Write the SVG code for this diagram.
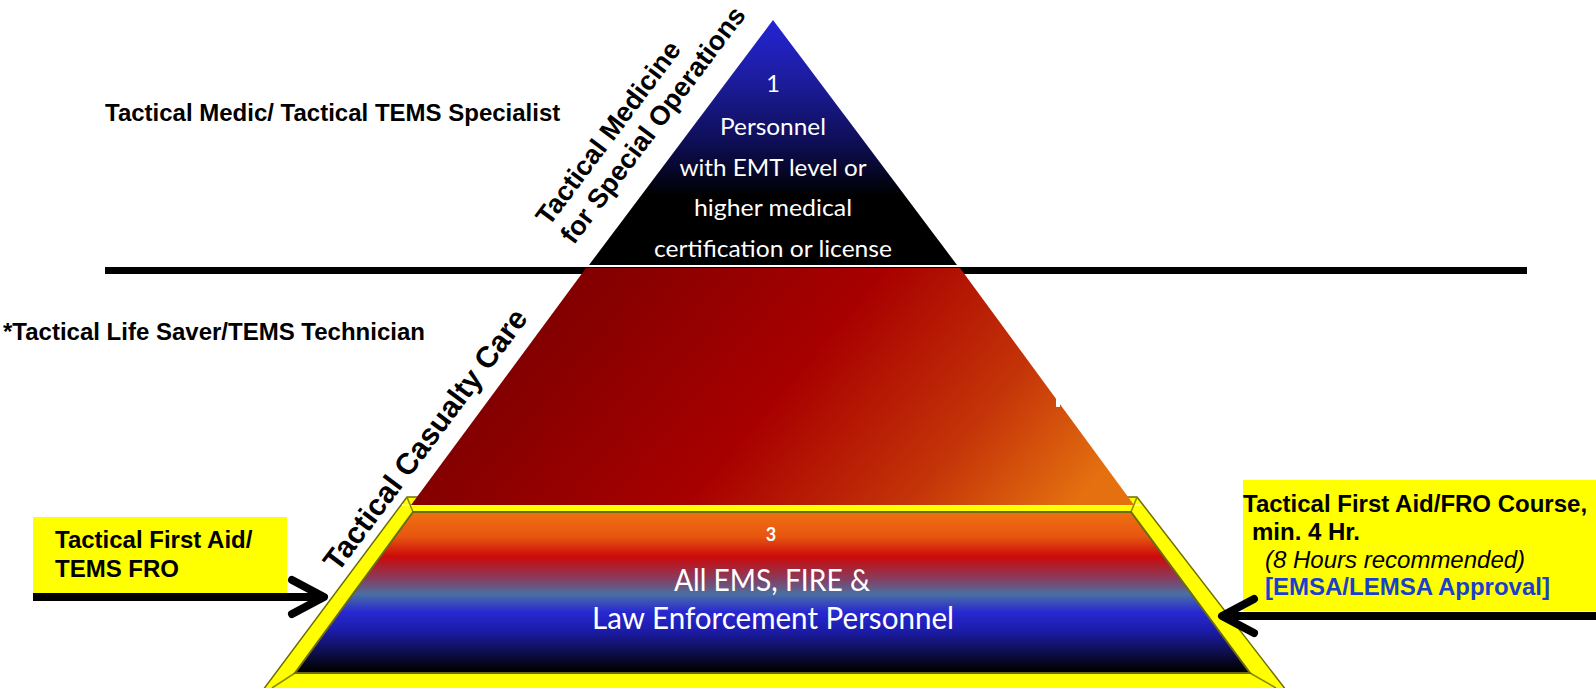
<svg xmlns="http://www.w3.org/2000/svg" width="1596" height="688" viewBox="0 0 1596 688">
  <style>
    .lbl { font-family: "Liberation Sans", Arial, sans-serif; font-weight: bold; font-size: 24px; fill: #000; }
    .rot1 { font-family: "Liberation Sans", Arial, sans-serif; font-weight: bold; font-size: 27px; fill: #000; }
    .rot2 { font-family: "Liberation Sans", Arial, sans-serif; font-weight: bold; font-size: 30px; fill: #000; }
    .wt { font-family: Lato, "Open Sans", sans-serif; fill: #fff; text-anchor: middle; }
    .top { font-size: 23.5px; }
    .base { font-size: 30px; }
    .ital { font-family: "Liberation Sans", Arial, sans-serif; font-style: italic; font-size: 24px; fill: #000; }
    .blue { fill: #1a3fcc; }
    .arrow { stroke: #000; stroke-width: 8; fill: none; }
    .box { fill: #ffff00; }
  </style>
  <defs>
    <linearGradient id="gTop" x1="0" y1="20" x2="0" y2="265" gradientUnits="userSpaceOnUse">
      <stop offset="0" stop-color="#2424d6"/>
      <stop offset="0.25" stop-color="#1c1c9c"/>
      <stop offset="0.5" stop-color="#0e0e56"/>
      <stop offset="0.72" stop-color="#000000"/>
      <stop offset="1" stop-color="#000000"/>
    </linearGradient>
    <linearGradient id="gMid" x1="620" y1="250" x2="1010" y2="580" gradientUnits="userSpaceOnUse">
      <stop offset="0" stop-color="#840000"/>
      <stop offset="0.42" stop-color="#a80000"/>
      <stop offset="0.75" stop-color="#c43408"/>
      <stop offset="1" stop-color="#e47010"/>
    </linearGradient>
    <linearGradient id="gBase" x1="0" y1="511" x2="0" y2="674" gradientUnits="userSpaceOnUse">
      <stop offset="0" stop-color="#f07212"/>
      <stop offset="0.16" stop-color="#e65510"/>
      <stop offset="0.28" stop-color="#cc0a0a"/>
      <stop offset="0.41" stop-color="#8a3a5c"/>
      <stop offset="0.51" stop-color="#4a70a2"/>
      <stop offset="0.62" stop-color="#2828d2"/>
      <stop offset="0.73" stop-color="#1c1cac"/>
      <stop offset="0.85" stop-color="#10105a"/>
      <stop offset="0.98" stop-color="#000000"/>
    </linearGradient>
    <marker id="chev" viewBox="-40 -24 48 48" markerWidth="48" markerHeight="48" markerUnits="userSpaceOnUse" refX="0" refY="0" orient="auto" overflow="visible">
      <path d="M -32,-17 L 0,0 L -32,17" fill="none" stroke="#000" stroke-width="8" stroke-linecap="round" stroke-linejoin="round"/>
    </marker>
  </defs>

  <!-- divider line -->
  <rect id="divider" x="105" y="267" width="1422" height="7" fill="#000"/>

  <!-- base tier (3) -->
  <g id="tier3">
    <polygon points="407,497 1137,497 1286,690 263,690" fill="#ffff00" stroke="#6e6e00" stroke-width="1.5"/>
    <polyline points="402,505 1141,505" fill="none" stroke="#ffff88" stroke-width="1.5"/>
    <line x1="413" y1="512" x2="407" y2="497" stroke="#8a8a00" stroke-width="1.5"/>
    <line x1="1131" y1="512" x2="1137" y2="497" stroke="#8a8a00" stroke-width="1.5"/>
    <line x1="295" y1="673" x2="272" y2="688" stroke="#8a8a00" stroke-width="1.5"/>
    <line x1="1250" y1="673" x2="1276" y2="688" stroke="#8a8a00" stroke-width="1.5"/>
    <polygon points="413,512 1131,512 1250,673 295,673" fill="url(#gBase)" stroke="#6b6b10" stroke-width="2"/>
    <text class="wt" x="771" y="541" font-size="18" font-weight="bold">3</text>
    <text class="wt base" x="772" y="591" textLength="196" lengthAdjust="spacingAndGlyphs">All EMS, FIRE &amp;</text>
    <text class="wt base" x="773" y="629" textLength="362" lengthAdjust="spacingAndGlyphs">Law Enforcement Personnel</text>
  </g>

  <!-- middle tier (2) -->
  <g id="tier2">
    <polygon points="586,268 960,268 1134,505 411,505" fill="url(#gMid)"/>
    <rect x="1056" y="398" width="4" height="9" fill="#fff"/>
  </g>

  <!-- top tier (1) -->
  <g id="tier1">
    <polygon points="773,20 957,265 589,265" fill="url(#gTop)" stroke="#fff" stroke-width="2.5" stroke-linejoin="round"/>
    <polygon points="773,20 957,265 589,265" fill="url(#gTop)"/>
    <text class="wt top" x="773" y="92">1</text>
    <text class="wt top" x="773" y="135" textLength="106" lengthAdjust="spacingAndGlyphs">Personnel</text>
    <text class="wt top" x="773" y="176" textLength="187" lengthAdjust="spacingAndGlyphs">with EMT level or</text>
    <text class="wt top" x="773" y="216" textLength="158" lengthAdjust="spacingAndGlyphs">higher medical</text>
    <text class="wt top" x="773" y="257" textLength="238" lengthAdjust="spacingAndGlyphs">certification or license</text>
  </g>

  <!-- side rotated labels -->
  <g id="label-special-ops" transform="translate(549,227) rotate(-53.13)">
    <text class="rot1" x="0" y="0">Tactical Medicine</text>
    <text class="rot1" x="0" y="31">for Special Operations</text>
  </g>
  <g id="label-casualty" transform="translate(338,573) rotate(-53.13)">
    <text class="rot2" x="0" y="0">Tactical Casualty Care</text>
  </g>

  <!-- level labels -->
  <g id="label-medic">
    <text class="lbl" x="105" y="121">Tactical Medic/ Tactical TEMS Specialist</text>
  </g>
  <g id="label-lifesaver">
    <text class="lbl" x="3" y="340">*Tactical Life Saver/TEMS Technician</text>
  </g>

  <g id="box-left">
    <rect class="box" x="33" y="517" width="254" height="76"/>
    <text class="lbl" x="55" y="548">Tactical First Aid/</text>
    <text class="lbl" x="55" y="577">TEMS FRO</text>
  </g>

  <g id="box-right">
    <rect class="box" x="1243" y="480" width="353" height="131"/>
    <text class="lbl" x="1243" y="512">Tactical First Aid/FRO Course,</text>
    <text class="lbl" x="1252" y="540">min. 4 Hr.</text>
    <text class="ital" x="1265" y="568">(8 Hours recommended)</text>
    <text class="lbl blue" x="1265" y="595">[EMSA/LEMSA Approval]</text>
  </g>

  <!-- connectors -->
  <g id="connectors">
    <line class="arrow" x1="33" y1="597" x2="324" y2="597" marker-end="url(#chev)"/>
    <line class="arrow" x1="1600" y1="616" x2="1222" y2="616" marker-end="url(#chev)"/>
  </g>
</svg>
